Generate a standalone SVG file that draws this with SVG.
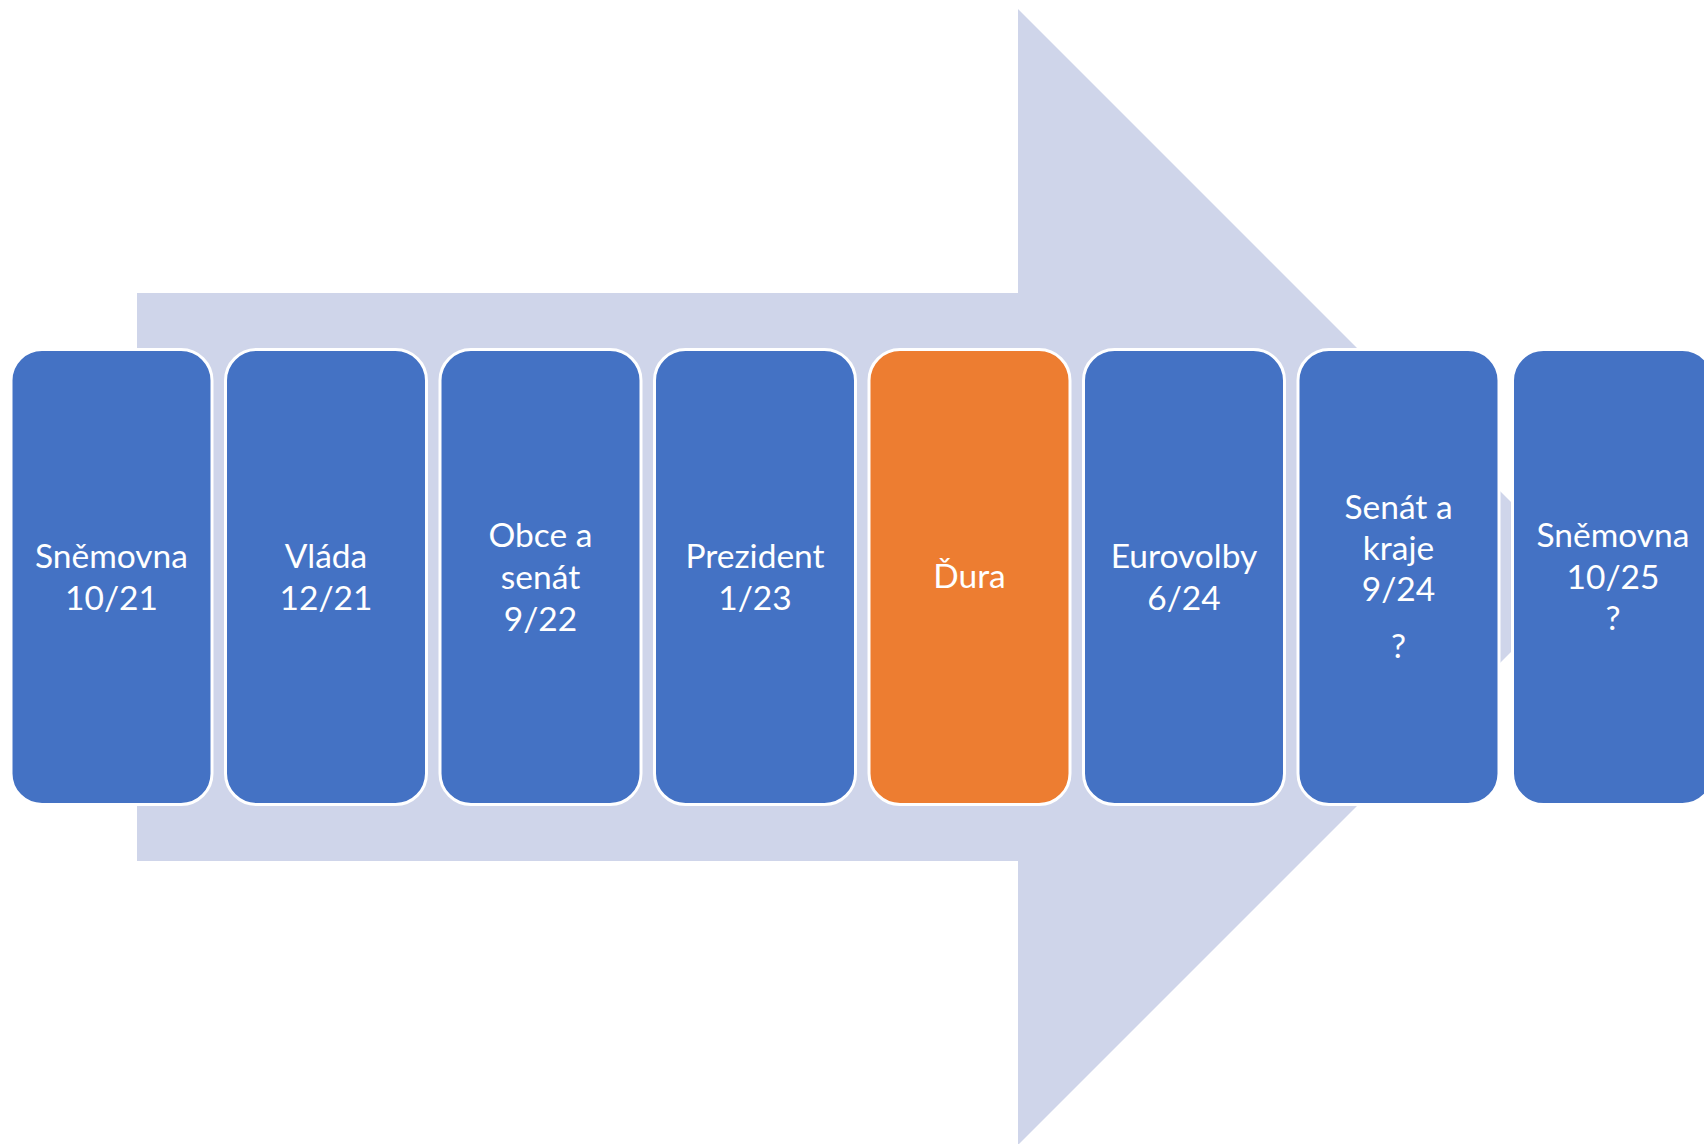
<svg xmlns="http://www.w3.org/2000/svg" width="1704" height="1144" viewBox="0 0 1704 1144">
<style>
.bg{fill:#CFD5EA}
.n{fill:#4472C4;stroke:#FFFFFF;stroke-width:3}
.o{fill:#ED7D31;stroke:#FFFFFF;stroke-width:3}
text{font-family:Lato,"Open Sans","Liberation Sans",sans-serif;font-size:33.5px;fill:#FFFFFF;text-anchor:middle}
</style>
<rect width="1704" height="1144" fill="#FFFFFF"/>
<g id="arrow">
<polygon class="bg" points="137,293 1018,293 1018,9 1586,577 1018,1145 1018,861 137,861"/>
</g>
<g id="connectors"></g>
<g id="n1"><rect class="n" x="11" y="349.5" width="201" height="455" rx="31"/><text x="111.5" y="568">Sněmovna</text><text x="111.5" y="610">10/21</text></g>
<g id="n2"><rect class="n" x="225.5" y="349.5" width="201" height="455" rx="31"/><text x="326" y="568">Vláda</text><text x="326" y="610">12/21</text></g>
<g id="n3"><rect class="n" x="440" y="349.5" width="201" height="455" rx="31"/><text x="540.5" y="547">Obce a</text><text x="540.5" y="589">senát</text><text x="540.5" y="631">9/22</text></g>
<g id="n4"><rect class="n" x="654.5" y="349.5" width="201" height="455" rx="31"/><text x="755" y="568">Prezident</text><text x="755" y="610">1/23</text></g>
<g id="n5"><rect class="o" x="869" y="349.5" width="201" height="455" rx="31"/><text x="969.5" y="588">Ďura</text></g>
<g id="n6"><rect class="n" x="1083.5" y="349.5" width="201" height="455" rx="31"/><text x="1184" y="568">Eurovolby</text><text x="1184" y="610">6/24</text></g>
<g id="n7"><rect class="n" x="1298" y="349.5" width="201" height="455" rx="31"/><text x="1398.5" y="519">Senát a</text><text x="1398.5" y="560">kraje</text><text x="1398.5" y="601">9/24</text><text x="1398.5" y="658">?</text></g>
<g id="n8"><rect class="n" x="1512.5" y="349.5" width="201" height="455" rx="31"/><text x="1613" y="547">Sněmovna</text><text x="1613" y="589">10/25</text><text x="1613" y="630">?</text></g>
</svg>
